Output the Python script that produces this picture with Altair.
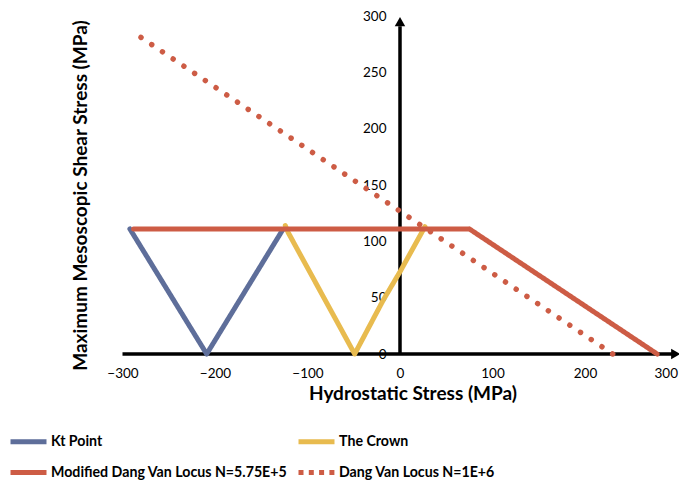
import altair as alt
import pandas as pd

# ---- data ----
series_names = ["Kt Point", "The Crown",
                "Modified Dang Van Locus N=5.75E+5", "Dang Van Locus N=1E+6"]
series_colors = ["#5E6E9A", "#E8BB4F", "#CD5C45", "#CD5C45"]

kt_x = [-292, -209, -127]
kt_y = [111, 0, 110]

crown_x = [-124, -121, -49, -18, 0, 27]
crown_y = [114, 108, 0, 48, 73, 113]

mdv_x = [-288, 75, 278]
mdv_y = [111, 111, 0]

dv_x = [-280, 230]
dv_y = [281, 0]

x_ticks = [-300, -200, -100, 0, 100, 200, 300]
y_ticks = [0, 50, 100, 150, 200, 250, 300]

# ---- build table ----
rows = []
for name, xs_, ys_ in zip(series_names, [kt_x, crown_x, mdv_x, dv_x], [kt_y, crown_y, mdv_y, dv_y]):
    for i, (xv, yv) in enumerate(zip(xs_, ys_)):
        rows.append({"series": name, "x": xv, "y": yv, "i": i})
df = pd.DataFrame(rows)
solid_df = df[df["series"] != series_names[3]]
dotted_df = df[df["series"] == series_names[3]]

axis_lines = pd.DataFrame({"x": [-300, 0], "x2": [296, 0], "y": [0, 0], "y2": [0, 291]})
arrows = pd.DataFrame({"x": [0, 298], "y": [295, 0], "shape": ["triangle-up", "triangle-right"]})

W, H = 555, 338
FONT = "Lato"
xs = alt.Scale(domain=[-300, 300], nice=False, zero=False)
ys = alt.Scale(domain=[0, 300], nice=False, zero=False)

x_axis = alt.Axis(
    values=x_ticks, title="Hydrostatic Stress (MPa)", grid=False, ticks=False, domain=False,
    labelFlush=False, labelOverlap=False,
    labelAlign={"condition": {"test": "datum.value >= 300", "value": "right"}, "value": "center"},
    labelPadding=12, labelFontSize=13.5, labelFont=FONT, labelColor="black",
    titleFont=FONT, titleFontSize=19, titleFontWeight="bold", titleColor="black",
    titleX=290, titleY=39, titleBaseline="middle")
y_axis = alt.Axis(
    values=y_ticks, title="Maximum Mesoscopic Shear Stress (MPa)", grid=False, ticks=False,
    domain=False, offset=-277.5, labelPadding=14, labelFontSize=13.5, labelFont=FONT,
    labelFlush=False, labelOverlap=False,
    labelColor="black", titleFont=FONT, titleFontSize=19, titleFontWeight="bold",
    titleColor="black", titleX=-320, titleY=179, titleBaseline="middle", titleAngle=270)

axes = alt.Chart(axis_lines).mark_rule(color="black", strokeWidth=3.5).encode(
    x=alt.X("x:Q", scale=xs, axis=x_axis),
    x2="x2:Q",
    y=alt.Y("y:Q", scale=ys, axis=y_axis),
    y2="y2:Q",
)

heads = alt.Chart(arrows).mark_point(filled=True, color="black", size=110, opacity=1).encode(
    x=alt.X("x:Q", scale=xs, axis=x_axis),
    y=alt.Y("y:Q", scale=ys, axis=y_axis),
    shape=alt.Shape("shape:N", scale=None),
)

legend = alt.Legend(
    title=None, orient="none", legendX=-114.5, legendY=405, columns=2, direction="horizontal",
    symbolType="stroke", symbolSize=1296, symbolStrokeWidth=5,
    labelFont=FONT, labelFontSize=14.2, labelFontWeight="bold", labelColor="black",
    labelLimit=0, labelOffset=2, columnPadding=0, rowPadding=0,
)
color_enc = alt.Color("series:N", scale=alt.Scale(domain=series_names, range=series_colors), legend=legend)

solid = alt.Chart(solid_df).mark_line(strokeWidth=5, strokeCap="round", strokeJoin="round").encode(
    x=alt.X("x:Q", scale=xs, axis=x_axis),
    y=alt.Y("y:Q", scale=ys, axis=y_axis),
    color=color_enc,
    strokeDash=alt.StrokeDash("series:N", scale=alt.Scale(
        domain=series_names, range=[[1, 0], [1, 0], [1, 0], [5, 5.3]]), legend=legend),
    order="i:Q",
)

dotted = alt.Chart(dotted_df).mark_line(
    strokeWidth=5.5, strokeCap="round", strokeDash=[0.01, 12.9]
).encode(
    x=alt.X("x:Q", scale=xs, axis=x_axis),
    y=alt.Y("y:Q", scale=ys, axis=y_axis),
    color=color_enc,
    order="i:Q",
)

chart = alt.layer(axes, heads, solid, dotted).properties(
    width=W, height=H,
    autosize=alt.AutoSizeParams(type="none"),
    padding={"left": 114.5, "top": 8, "right": 1.5, "bottom": 126},
).configure_view(stroke=None)

chart.save("out.html", embed_options={"renderer": "svg", "actions": False})
